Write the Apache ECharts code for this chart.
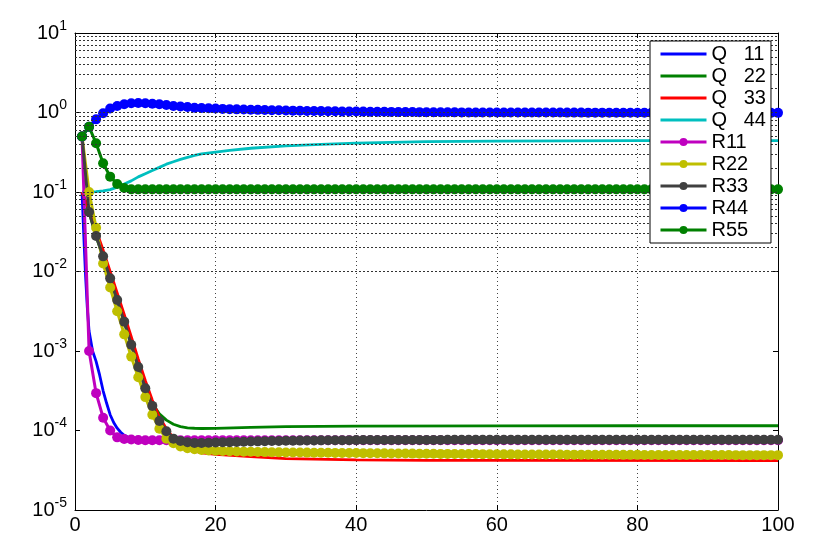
<!DOCTYPE html>
<html><head><meta charset="utf-8">
<script src="https://cdn.jsdelivr.net/npm/echarts@6/dist/echarts.min.js"></script>
<style>html,body{margin:0;padding:0;background:#fff}#c{width:830px;height:554px}</style>
</head><body><div id="c"></div><script>
const FONT = "'Liberation Sans', Arial, sans-serif";
const xTicks = [0, 20, 40, 60, 80, 100];
const seriesNames = ['Q   11','Q   22','Q   33','Q   44','R11','R22','R33','R44','R55'];
const seriesColors = ['#0000ff','#008000','#ff0000','#00bfbf','#bf00bf','#bfbf00','#404040','#0000ff','#008000'];

const stepX = [1,2,3,4,5,6,7,8,9,10,11,12,13,14,15,16,17,18,19,20,21,22,23,24,25,26,27,28,29,30,31,32,33,34,35,36,37,38,39,40,41,42,43,44,45,46,47,48,49,50,51,52,53,54,55,56,57,58,59,60,61,62,63,64,65,66,67,68,69,70,71,72,73,74,75,76,77,78,79,80,81,82,83,84,85,86,87,88,89,90,91,92,93,94,95,96,97,98,99,100];

const q11X = [1,1.25,1.5,1.75,2,2.5,3,3.5,4,4.5,5,5.5,6,6.5,7,7.5,8,9,10,20,40,60,80,100];
const q11Y = [0.1,2.8e-2,8.9e-3,3.5e-3,1.78e-3,1.0e-3,7.4e-4,5.0e-4,3.16e-4,2.2e-4,1.58e-4,1.26e-4,1.07e-4,9.5e-5,8.7e-5,8.3e-5,7.9e-5,7.75e-5,7.6e-5,7.55e-5,7.55e-5,7.55e-5,7.55e-5,7.55e-5];
const q22X = [1,2,3,4,5,6,7,8,9,10,11,12,13,14,15,16,17,18,20,25,30,40,60,80,100];
const q22Y = [0.1,0.056,0.0275,0.0151,0.0081,4.37e-3,2.29e-3,1.2e-3,6.3e-4,3.55e-4,2.19e-4,1.62e-4,1.35e-4,1.2e-4,1.12e-4,1.08e-4,1.067e-4,1.06e-4,1.064e-4,1.096e-4,1.12e-4,1.135e-4,1.143e-4,1.148e-4,1.148e-4];
const q33X = [1,2,3,4,5,6,7,8,9,10,11,12,13,14,15,16,17,18,20,25,30,40,50,60,100];
const q33Y = [0.1,0.06,0.0331,0.0186,0.01,5.37e-3,2.88e-3,1.51e-3,7.9e-4,4.27e-4,2.4e-4,1.48e-4,1.05e-4,8.1e-5,6.8e-5,6.0e-5,5.5e-5,5.25e-5,5.0e-5,4.68e-5,4.42e-5,4.27e-5,4.22e-5,4.2e-5,4.17e-5];
const q44X = [1,2,3,4,5,6,7,8,9,10,11,12,13,14,15,16,17,18,20,22,25,30,35,40,45,50,60,70,80,100];
const q44Y = [0.1,0.1,0.101,0.1035,0.107,0.115,0.126,0.138,0.155,0.17,0.186,0.204,0.224,0.24,0.257,0.272,0.288,0.302,0.318,0.334,0.355,0.38,0.398,0.412,0.422,0.429,0.437,0.44,0.442,0.444];

const r11 = [0.5,1.0e-3,2.95e-4,1.45e-4,1.0e-4,8.2e-5,7.8e-5,7.7e-5,7.6e-5,7.55e-5,
7.55e-5,7.55e-5,7.55e-5,7.55e-5,7.55e-5,7.55e-5,7.55e-5,7.55e-5,7.55e-5,7.55e-5,
7.55e-5,7.55e-5,7.55e-5,7.55e-5,7.55e-5,7.55e-5,7.55e-5,7.55e-5,7.55e-5,7.55e-5,
7.55e-5,7.55e-5,7.55e-5,7.55e-5,7.55e-5,7.55e-5,7.55e-5,7.55e-5,7.55e-5,7.55e-5,
7.55e-5,7.55e-5,7.55e-5,7.55e-5,7.55e-5,7.55e-5,7.55e-5,7.55e-5,7.55e-5,7.55e-5,
7.55e-5,7.55e-5,7.55e-5,7.55e-5,7.55e-5,7.55e-5,7.55e-5,7.55e-5,7.55e-5,7.55e-5,
7.55e-5,7.55e-5,7.55e-5,7.55e-5,7.55e-5,7.55e-5,7.55e-5,7.55e-5,7.55e-5,7.55e-5,
7.55e-5,7.55e-5,7.55e-5,7.55e-5,7.55e-5,7.55e-5,7.55e-5,7.55e-5,7.55e-5,7.55e-5,
7.55e-5,7.55e-5,7.55e-5,7.55e-5,7.55e-5,7.55e-5,7.55e-5,7.55e-5,7.55e-5,7.55e-5,
7.55e-5,7.55e-5,7.55e-5,7.55e-5,7.55e-5,7.55e-5,7.55e-5,7.55e-5,7.55e-5,7.55e-5];
const r22 = [0.5,0.1,0.0355,0.0126,0.0063,3.16e-3,1.62e-3,8.5e-4,4.68e-4,2.63e-4,
1.58e-4,1.05e-4,7.9e-5,6.9e-5,6.3e-5,6.0e-5,5.82e-5,5.69e-5,5.62e-5,5.56e-5,
5.52e-5,5.48e-5,5.45e-5,5.42e-5,5.39e-5,5.37e-5,5.35e-5,5.33e-5,5.31e-5,5.3e-5,
5.29e-5,5.28e-5,5.27e-5,5.26e-5,5.25e-5,5.24e-5,5.23e-5,5.22e-5,5.21e-5,5.2e-5,
5.19e-5,5.18e-5,5.17e-5,5.16e-5,5.15e-5,5.14e-5,5.13e-5,5.12e-5,5.11e-5,5.1e-5,
5.09e-5,5.08e-5,5.08e-5,5.07e-5,5.06e-5,5.05e-5,5.05e-5,5.04e-5,5.03e-5,5.02e-5,
5.01e-5,5.01e-5,5.0e-5,5.0e-5,5.0e-5,4.99e-5,4.99e-5,4.98e-5,4.98e-5,4.97e-5,
4.97e-5,4.97e-5,4.96e-5,4.96e-5,4.95e-5,4.95e-5,4.95e-5,4.94e-5,4.94e-5,4.94e-5,
4.93e-5,4.93e-5,4.93e-5,4.93e-5,4.92e-5,4.92e-5,4.92e-5,4.92e-5,4.91e-5,4.91e-5,
4.91e-5,4.91e-5,4.91e-5,4.9e-5,4.9e-5,4.9e-5,4.9e-5,4.9e-5,4.9e-5,4.9e-5];
const r33 = [0.5,0.056,0.028,0.0155,0.0082,4.37e-3,2.34e-3,1.2e-3,6.3e-4,3.4e-4,
2.04e-4,1.32e-4,9.8e-5,7.9e-5,7.4e-5,7.1e-5,6.95e-5,6.95e-5,7.0e-5,7.05e-5,
7.1e-5,7.14e-5,7.18e-5,7.22e-5,7.26e-5,7.3e-5,7.33e-5,7.36e-5,7.39e-5,7.42e-5,
7.44e-5,7.46e-5,7.48e-5,7.5e-5,7.52e-5,7.53e-5,7.54e-5,7.55e-5,7.56e-5,7.57e-5,
7.58e-5,7.58e-5,7.59e-5,7.59e-5,7.6e-5,7.6e-5,7.6e-5,7.61e-5,7.61e-5,7.62e-5,
7.62e-5,7.62e-5,7.63e-5,7.63e-5,7.63e-5,7.64e-5,7.64e-5,7.64e-5,7.65e-5,7.65e-5,
7.65e-5,7.65e-5,7.65e-5,7.65e-5,7.65e-5,7.65e-5,7.65e-5,7.65e-5,7.65e-5,7.65e-5,
7.65e-5,7.65e-5,7.65e-5,7.65e-5,7.65e-5,7.65e-5,7.65e-5,7.65e-5,7.65e-5,7.65e-5,
7.65e-5,7.65e-5,7.65e-5,7.65e-5,7.65e-5,7.65e-5,7.65e-5,7.65e-5,7.65e-5,7.65e-5,
7.65e-5,7.65e-5,7.65e-5,7.65e-5,7.65e-5,7.65e-5,7.65e-5,7.65e-5,7.65e-5,7.65e-5];
const r44 = [0.5,0.66,0.82,0.98,1.12,1.21,1.27,1.31,1.32,1.31,
1.29,1.27,1.24,1.21,1.19,1.17,1.15,1.14,1.13,1.12,
1.11,1.1,1.095,1.09,1.085,1.08,1.075,1.07,1.065,1.06,
1.055,1.05,1.047,1.044,1.041,1.038,1.035,1.032,1.03,1.028,
1.026,1.024,1.022,1.02,1.018,1.016,1.014,1.012,1.01,1.008,
1.007,1.006,1.005,1.004,1.003,1.002,1.001,1.0,1.0,1.0,
1.0,1.0,1.0,0.999,0.999,0.999,0.998,0.998,0.998,0.997,
0.997,0.997,0.996,0.996,0.996,0.995,0.995,0.995,0.994,0.994,
0.994,0.993,0.993,0.993,0.992,0.992,0.992,0.991,0.991,0.991,
0.99,0.99,0.99,0.99,0.99,0.99,0.99,0.99,0.99,0.99];
const r55 = [0.5,0.66,0.41,0.23,0.156,0.126,0.112,0.108,0.108,0.108,
0.108,0.108,0.108,0.108,0.108,0.108,0.108,0.108,0.108,0.108,
0.108,0.108,0.108,0.108,0.108,0.108,0.108,0.108,0.108,0.108,
0.108,0.108,0.108,0.108,0.108,0.108,0.108,0.108,0.108,0.108,
0.108,0.108,0.108,0.108,0.108,0.108,0.108,0.108,0.108,0.108,
0.108,0.108,0.108,0.108,0.108,0.108,0.108,0.108,0.108,0.108,
0.108,0.108,0.108,0.108,0.108,0.108,0.108,0.108,0.108,0.108,
0.108,0.108,0.108,0.108,0.108,0.108,0.108,0.108,0.108,0.108,
0.108,0.108,0.108,0.108,0.108,0.108,0.108,0.108,0.108,0.108,
0.108,0.108,0.108,0.108,0.108,0.108,0.108,0.108,0.108,0.108];

// grid line positions (log axis decades and 2..9 multiples)
const decades = [-5,-4,-3,-2,-1,0];
const multipliers = [1,2,3,4,5,6,7,8,9];

const gridLines = [];
decades.forEach(d => multipliers.forEach(m => {
  const v = m * Math.pow(10, d);
  if (!(d === -5 && m === 1)) gridLines.push({ yAxis: v });
}));

const pairs = (xs, ys) => xs.map((x, i) => [x, ys[i]]);
const qData = [pairs(q11X, q11Y), pairs(q22X, q22Y), pairs(q33X, q33Y), pairs(q44X, q44Y)];
const rData = [r11, r22, r33, r44, r55].map(r => pairs(stepX, r));

const series = [{
  name: '_grid', type: 'line', data: [], silent: true, z: 1,
  markLine: {
    silent: true, symbol: ['none', 'none'], label: { show: false }, animation: false,
    lineStyle: { type: [2, 2], color: '#333', width: 1 },
    emphasis: { disabled: true },
    data: gridLines
  }
}];
qData.forEach((d, i) => series.push({
  name: seriesNames[i], type: 'line', data: d, symbol: 'none', z: 3,
  lineStyle: { width: 2.8, color: seriesColors[i] }, itemStyle: { color: seriesColors[i] },
  clip: false, silent: true
}));
rData.forEach((d, i) => series.push({
  name: seriesNames[i + 4], type: 'line', data: d, symbol: 'circle', symbolSize: 10, showSymbol: true, z: 3,
  lineStyle: { width: 3, color: seriesColors[i + 4] }, itemStyle: { color: seriesColors[i + 4] },
  clip: false, silent: true
}));

const legendData = seriesNames.map((n, i) => i < 4
  ? { name: n, itemStyle: { opacity: 0 }, lineStyle: { width: 3, type: 'solid' } }
  : { name: n, lineStyle: { width: 3, type: 'solid' } });

const chart = echarts.init(document.getElementById('c'), null, { renderer: 'canvas' });
chart.setOption({
  animation: false,
  backgroundColor: '#fff',
  textStyle: { fontFamily: FONT },
  grid: { left: 75, right: 52, top: 33, bottom: 44, show: false },
  legend: {
    z: 10,
    data: legendData, orient: 'vertical', left: 650, top: 41,
    backgroundColor: '#fff', borderColor: '#000', borderWidth: 1, borderRadius: 0,
    padding: [2, 5, 2, 9], itemWidth: 46, itemHeight: 10, itemGap: 0,
    textStyle: { fontSize: 20, color: '#000', fontFamily: FONT, lineHeight: 22 },
    selectedMode: false
  },
  xAxis: [{
    type: 'value', min: 0, max: 100, interval: 20,
    axisLine: { show: true, lineStyle: { color: '#000', width: 1 } },
    axisTick: { show: true, inside: true, length: 5, lineStyle: { color: '#000' } },
    axisLabel: { fontSize: 20, color: '#000', margin: 5, fontFamily: FONT,
      formatter: v => xTicks.includes(v) ? String(v) : '' },
    splitLine: { show: true, lineStyle: { type: [1, 3], color: '#444', width: 1 } }
  }, {
    type: 'value', min: 0, max: 100, interval: 20, position: 'top',
    axisLine: { show: true, onZero: false, lineStyle: { color: '#000', width: 1 } },
    axisTick: { show: true, inside: true, length: 5, lineStyle: { color: '#000' } },
    axisLabel: { show: false }, splitLine: { show: false }
  }],
  yAxis: [{
    type: 'log', logBase: 10, min: 1e-5, max: 10, interval: 1,
    axisLine: { show: true, lineStyle: { color: '#000', width: 1 } },
    axisTick: { show: true, inside: true, length: 5, lineStyle: { color: '#000' } },
    splitLine: { show: false },
    axisLabel: {
      margin: 8, color: '#000',
      formatter: v => '{b|10}{s|' + Math.round(Math.log10(v)) + '}',
      rich: {
        b: { fontSize: 20, fontFamily: FONT, color: '#000', lineHeight: 28, verticalAlign: 'middle' },
        s: { fontSize: 14, fontFamily: FONT, color: '#000', lineHeight: 10, verticalAlign: 'top' }
      }
    }
  }, {
    type: 'log', logBase: 10, min: 1e-5, max: 10, interval: 1, position: 'right',
    axisLine: { show: true, onZero: false, lineStyle: { color: '#000', width: 1 } },
    axisTick: { show: true, inside: true, length: 5, lineStyle: { color: '#000' } },
    axisLabel: { show: false }, splitLine: { show: false }
  }],
  series: series
});
</script></body></html>
